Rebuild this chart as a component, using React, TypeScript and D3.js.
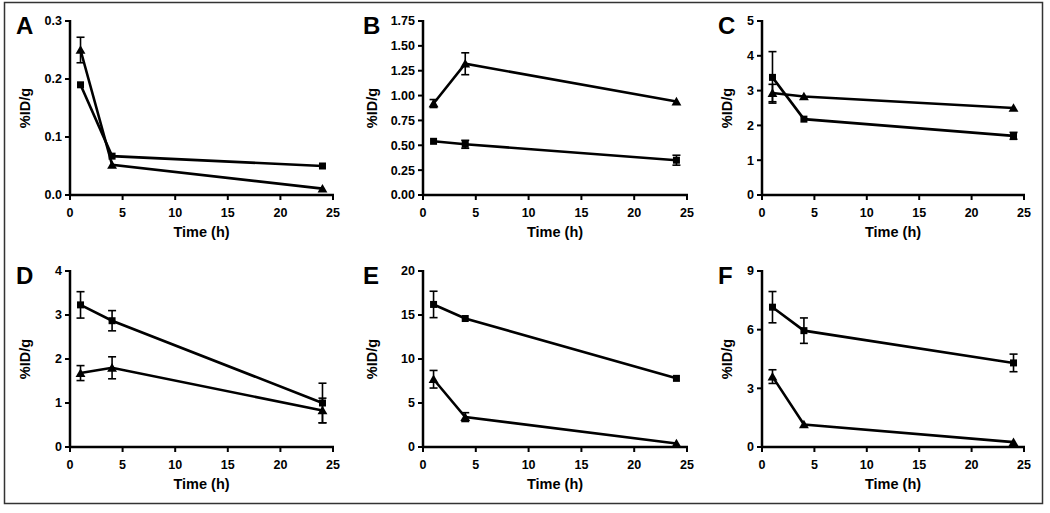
import React from 'react';
import * as d3 from 'd3';

// sampling times (h)
const times = [1, 4, 24];

// panel letters
const letters = ['A', 'B', 'C', 'D', 'E', 'F'];

// y-axis tick values per panel
const yTicksA = [0, 0.1, 0.2, 0.3];
const yTicksB = [0, 0.25, 0.5, 0.75, 1.0, 1.25, 1.5, 1.75];
const yTicksC = [0, 1, 2, 3, 4, 5];
const yTicksD = [0, 1, 2, 3, 4];
const yTicksE = [0, 5, 10, 15, 20];
const yTicksF = [0, 3, 6, 9];
const xTicks = [0, 5, 10, 15, 20, 25];

// squares (mean, sd) per panel
const squareA = [0.19, 0.067, 0.05];
const squareErrA = [0, 0, 0];
const squareB = [0.54, 0.51, 0.35];
const squareErrB = [0, 0.04, 0.05];
const squareC = [3.38, 2.18, 1.7];
const squareErrC = [0.74, 0, 0.1];
const squareD = [3.23, 2.87, 1.0];
const squareErrD = [0.3, 0.23, 0.45];
const squareE = [16.2, 14.6, 7.8];
const squareErrE = [1.5, 0, 0];
const squareF = [7.15, 5.95, 4.3];
const squareErrF = [0.8, 0.65, 0.45];

// triangles (mean, sd) per panel
const triA = [0.25, 0.052, 0.011];
const triErrA = [0.022, 0, 0];
const triB = [0.92, 1.32, 0.94];
const triErrB = [0.04, 0.11, 0];
const triC = [2.93, 2.83, 2.5];
const triErrC = [0.25, 0, 0];
const triD = [1.68, 1.8, 0.83];
const triErrD = [0.17, 0.25, 0.28];
const triE = [7.7, 3.4, 0.4];
const triErrE = [1.0, 0.5, 0];
const triF = [3.6, 1.15, 0.25];
const triErrF = [0.35, 0, 0];

const fmtA = (d: number) => d.toFixed(1);
const fmtB = (d: number) => d.toFixed(2);
const fmtInt = (d: number) => String(d);

const panels = [
  { yTicks: yTicksA, fmt: fmtA, sq: squareA, sqE: squareErrA, tr: triA, trE: triErrA },
  { yTicks: yTicksB, fmt: fmtB, sq: squareB, sqE: squareErrB, tr: triB, trE: triErrB },
  { yTicks: yTicksC, fmt: fmtInt, sq: squareC, sqE: squareErrC, tr: triC, trE: triErrC },
  { yTicks: yTicksD, fmt: fmtInt, sq: squareD, sqE: squareErrD, tr: triD, trE: triErrD },
  { yTicks: yTicksE, fmt: fmtInt, sq: squareE, sqE: squareErrE, tr: triE, trE: triErrE },
  { yTicks: yTicksF, fmt: fmtInt, sq: squareF, sqE: squareErrF, tr: triF, trE: triErrF },
];

const colLeft = [70, 423, 762];
const colRight = [333, 687, 1024];
const rowTop = [21, 271];
const rowBottom = [195, 447];
const labelOffset = [45, 51, 35];

const font = 'Liberation Sans, Arial, sans-serif';

function Panel({ idx }: { idx: number }) {
  const p = panels[idx];
  const col = idx % 3;
  const row = Math.floor(idx / 3);
  const x0 = colLeft[col], x1 = colRight[col];
  const y0 = rowBottom[row], y1 = rowTop[row];
  const x = d3.scaleLinear().domain([0, 25]).range([x0, x1]);
  const y = d3.scaleLinear().domain([0, p.yTicks[p.yTicks.length - 1]]).range([y0, y1]);
  const line = d3.line<number>().x((d, i) => x(times[i])).y((d) => y(d));
  const labelX = x0 - labelOffset[col];
  const midY = (y0 + y1) / 2;

  const errBars = (vals: number[], errs: number[], key: string) =>
    vals.map((v, i) =>
      errs[i] > 0 ? (
        <g key={key + i} stroke="#000" strokeWidth={1.6}>
          <line x1={x(times[i])} x2={x(times[i])} y1={y(v - errs[i])} y2={y(v + errs[i])} />
          <line x1={x(times[i]) - 4} x2={x(times[i]) + 4} y1={y(v + errs[i])} y2={y(v + errs[i])} />
          <line x1={x(times[i]) - 4} x2={x(times[i]) + 4} y1={y(v - errs[i])} y2={y(v - errs[i])} />
        </g>
      ) : null
    );

  const tri = d3.symbol(d3.symbolTriangle, 42);

  return (
    <g>
      <text x={labelX - 9} y={y1 + 13} fontSize={24} fontWeight="bold" fontFamily={font}>
        {letters[idx]}
      </text>
      {/* axes */}
      <line x1={x0} x2={x0} y1={y1 - 1} y2={y0 + 1} stroke="#000" strokeWidth={2.5} />
      <line x1={x0 - 1} x2={x1 + 1} y1={y0} y2={y0} stroke="#000" strokeWidth={2.5} />
      {p.yTicks.map((t) => (
        <g key={'y' + t}>
          <line x1={x0 - 5} x2={x0} y1={y(t)} y2={y(t)} stroke="#000" strokeWidth={2} />
          <text x={x0 - 8} y={y(t)} dy="0.35em" textAnchor="end" fontSize={12.5} fontWeight="bold" fontFamily={font}>
            {p.fmt(t)}
          </text>
        </g>
      ))}
      {xTicks.map((t) => (
        <g key={'x' + t}>
          <line x1={x(t)} x2={x(t)} y1={y0} y2={y0 + 5} stroke="#000" strokeWidth={2} />
          <text x={x(t)} y={y0 + 22} textAnchor="middle" fontSize={12.5} fontWeight="bold" fontFamily={font}>
            {t}
          </text>
        </g>
      ))}
      <text x={(x0 + x1) / 2} y={y0 + 42} textAnchor="middle" fontSize={14.5} fontWeight="bold" fontFamily={font}>
        Time (h)
      </text>
      <text
        transform={`translate(${labelX},${midY}) rotate(-90)`}
        textAnchor="middle"
        dy="0.35em"
        fontSize={14.5}
        fontWeight="bold"
        fontFamily={font}
      >
        %ID/g
      </text>
      {/* series */}
      {errBars(p.sq, p.sqE, 's')}
      {errBars(p.tr, p.trE, 't')}
      <path d={line(p.sq) || ''} fill="none" stroke="#000" strokeWidth={2.6} />
      <path d={line(p.tr) || ''} fill="none" stroke="#000" strokeWidth={2.6} />
      {p.sq.map((v, i) => (
        <rect key={'sq' + i} x={x(times[i]) - 3.5} y={y(v) - 3.5} width={7} height={7} fill="#000" />
      ))}
      {p.tr.map((v, i) => (
        <path key={'tr' + i} d={tri() || ''} transform={`translate(${x(times[i])},${y(v) + 1})`} fill="#000" />
      ))}
    </g>
  );
}

export default function App() {
  return (
    <svg width={1050} height={513} style={{ position: 'absolute', left: 0, top: 0, background: '#fff' }}>
      <rect x={4.5} y={2.5} width={1038} height={501} fill="#fff" stroke="#333" strokeWidth={1.5} />
      {letters.map((l, i) => (
        <Panel key={l} idx={i} />
      ))}
    </svg>
  );
}
